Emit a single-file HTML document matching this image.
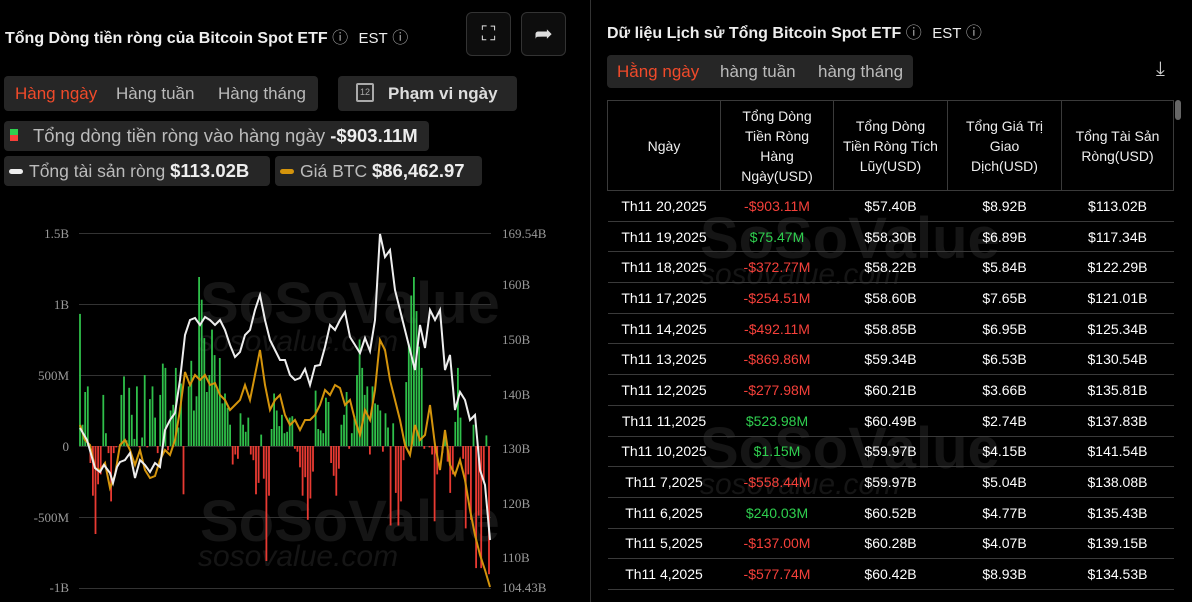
<!DOCTYPE html>
<html><head><meta charset="utf-8"><style>
*{margin:0;padding:0;box-sizing:border-box}
body{width:1192px;height:602px;background:#000;font-family:"Liberation Sans",sans-serif;color:#ddd;position:relative;overflow:hidden}
.a{position:absolute}
.pill{position:absolute;background:#262626;border-radius:4px}
table{border-collapse:collapse;position:absolute;left:607px;top:100px;width:567px;font-size:14px;color:#fff}
td,th{border:1px solid #3a3a3a;text-align:center;font-weight:normal}
th{height:90px;font-size:14px;color:#eee;line-height:20px}
td{height:30.7px;border-left:none;border-right:none}
.r{color:#f5403a}.g{color:#2fcf4f}
.wm{position:absolute;color:#151515;font-weight:bold;font-size:58px}
.wm2{position:absolute;color:#151515;font-style:italic;font-size:30px}
</style></head><body>
<div class="wm" style="left:200px;top:270px">SoSoValue</div>
<div class="wm2" style="left:198px;top:325px">sosovalue.com</div>
<div class="wm" style="left:200px;top:488px">SoSoValue</div>
<div class="wm2" style="left:198px;top:540px">sosovalue.com</div>
<div class="wm" style="left:700px;top:205px">SoSoValue</div>
<div class="wm2" style="left:700px;top:258px">sosovalue.com</div>
<div class="wm" style="left:700px;top:415px">SoSoValue</div>
<div class="wm2" style="left:700px;top:468px">sosovalue.com</div>
<div class="a" style="left:5px;top:24px;font-size:16px;font-weight:bold;color:#eee">Tổng Dòng tiền ròng của Bitcoin Spot ETF <span style="font-weight:normal;color:#aaa">ⓘ</span> <span style="font-weight:normal;font-size:15px;margin-left:6px">EST</span> <span style="font-weight:normal;color:#aaa">ⓘ</span></div>
<div class="a" style="left:466px;top:12px;width:45px;height:44px;border:1px solid #333;border-radius:6px;background:#0d0d0d;text-align:center;line-height:42px;font-size:20px">⛶</div>
<div class="a" style="left:521px;top:12px;width:45px;height:44px;border:1px solid #333;border-radius:6px;background:#0d0d0d;text-align:center;line-height:42px;font-size:22px">➦</div>
<div class="a" style="left:590px;top:0;width:1px;height:602px;background:#333"></div>
<div class="pill" style="left:4px;top:76px;width:314px;height:35px"></div>
<div class="a" style="left:15px;top:84px;font-size:17px;color:#f04a2a">Hàng ngày</div>
<div class="a" style="left:116px;top:84px;font-size:17px;color:#bbb">Hàng tuần</div>
<div class="a" style="left:218px;top:84px;font-size:17px;color:#bbb">Hàng tháng</div>
<div class="pill" style="left:338px;top:76px;width:179px;height:35px"></div>
<div class="a" style="left:356px;top:83px;width:18px;height:19px;border:2px solid #aaa;border-radius:2px;font-size:9px;text-align:center;line-height:15px;color:#aaa">12</div>
<div class="a" style="left:388px;top:84px;font-size:17px;font-weight:bold;color:#ddd">Phạm vi ngày</div>
<div class="pill" style="left:4px;top:121px;width:425px;height:30px"></div>
<div class="a" style="left:10px;top:129px;width:8px;height:6px;background:#2fcf4f"></div>
<div class="a" style="left:10px;top:135px;width:8px;height:6px;background:#f5403a"></div>
<div class="a" style="left:33px;top:125px;font-size:18.5px;color:#bbb">Tổng dòng tiền ròng vào hàng ngày <b style="color:#eee">-$903.11M</b></div>
<div class="pill" style="left:4px;top:156px;width:266px;height:30px"></div>
<div class="a" style="left:9px;top:169px;width:14px;height:5px;border-radius:3px;background:#eee"></div>
<div class="a" style="left:29px;top:160px;font-size:17.5px;color:#bbb">Tổng tài sản ròng <b style="color:#eee;font-size:18.5px">$113.02B</b></div>
<div class="pill" style="left:275px;top:156px;width:207px;height:30px"></div>
<div class="a" style="left:280px;top:169px;width:14px;height:5px;border-radius:3px;background:#d4940c"></div>
<div class="a" style="left:300px;top:160px;font-size:17.5px;color:#bbb">Giá BTC <b style="color:#eee;font-size:18.5px">$86,462.97</b></div>
<svg class="a" style="left:0;top:0" width="590" height="602" id="ch">
<g stroke="#333" stroke-width="1">
<line x1="79" x2="491" y1="233.5" y2="233.5"/><line x1="79" x2="491" y1="304.5" y2="304.5"/><line x1="79" x2="491" y1="375.5" y2="375.5"/><line x1="79" x2="491" y1="446.5" y2="446.5"/><line x1="79" x2="491" y1="517.5" y2="517.5"/><line x1="79" x2="491" y1="588.5" y2="588.5"/></g>
<g font-family="Liberation Serif" font-size="13" fill="#999" text-anchor="end">
<text x="69" y="238">1.5B</text><text x="69" y="309">1B</text><text x="69" y="380">500M</text><text x="69" y="451">0</text><text x="69" y="522">-500M</text><text x="69" y="592">-1B</text></g>
<g font-family="Liberation Serif" font-size="13" fill="#999">
<text x="502" y="238">169.54B</text><text x="502" y="289">160B</text><text x="502" y="344">150B</text><text x="502" y="399">140B</text><text x="502" y="453">130B</text><text x="502" y="508">120B</text><text x="502" y="562">110B</text><text x="502" y="592">104.43B</text></g>
<g id="bars"></g>
<polyline fill="none" stroke="#d4940c" stroke-width="2" points="80,425 85,440 90,445 95,468 100,470 105,463 110,488 115,475 120,445 125,440 130,450 135,465 140,450 145,470 150,478 155,476 160,460 165,450 170,455 175,440 180,410 185,372 190,385 195,375 200,380 205,375 210,385 215,383 220,395 225,400 230,410 235,405 240,400 245,385 250,400 255,375 260,350 265,385 270,410 275,400 280,395 285,415 290,425 295,420 300,430 305,420 310,420 315,415 320,405 325,390 330,395 335,385 340,388 345,405 350,400 355,420 360,435 365,410 370,420 375,390 380,340 385,350 390,380 395,400 400,420 405,445 410,455 415,425 420,440 425,435 430,405 435,445 440,470 445,430 450,465 455,475 460,460 465,480 470,510 475,535 480,555 485,570 490,587"/>
<polyline fill="none" stroke="#eee" stroke-width="2" points="80,428 87,440 95,468 100,472 104,465 110,473 113,483 117,467 120,462 125,460 130,453 135,478 140,460 145,465 150,472 155,463 160,467 165,430 170,420 175,413 180,380 185,335 190,320 195,318 200,325 205,317 210,320 215,325 220,320 225,330 230,345 235,357 240,352 245,335 250,330 255,310 260,295 265,320 270,340 275,350 280,360 285,360 290,375 295,380 300,378 305,369 310,385 315,366 320,365 325,347 330,325 335,330 340,320 345,312 350,337 355,345 360,353 365,338 370,351 375,320 380,234 385,257 390,250 395,290 400,310 405,330 410,350 415,370 420,325 425,348 430,310 435,320 440,310 445,370 450,355 455,410 460,392 465,400 470,420 475,415 480,470 485,485 490,540"/>
</svg>
<script>
var v=[930,150,380,420,-120,-350,-620,-270,-200,360,90,-50,-390,-50,-10,0,360,490,40,410,220,50,420,-10,60,500,-10,330,420,200,-50,360,580,550,-30,250,290,550,130,440,-340,0,420,600,250,350,1190,1030,760,380,500,820,640,400,620,300,370,270,150,-130,-60,-90,230,150,100,200,-60,-100,-340,-260,80,-230,-810,-350,120,370,250,140,220,90,100,200,210,-20,-40,-150,-350,-220,-520,-370,-180,390,120,110,90,340,310,-120,-210,-350,-160,150,220,380,-20,90,210,500,750,550,360,420,-60,420,300,290,250,-40,230,130,-560,160,-330,-560,-390,-100,450,720,1060,1190,950,700,550,-20,0,-10,-60,-530,-200,0,-50,100,-110,-330,-200,170,550,200,-90,-580,-200,-520,150,-860,-490,-860,-250,75,-903];
var s='',n=v.length,st=(489-80)/(n-1);
for(var i=0;i<n;i++){var x=80+i*st,h=Math.abs(v[i])*0.142,y=v[i]>=0?446-h:446;s+='<rect x="'+(x-0.9).toFixed(1)+'" y="'+y.toFixed(1)+'" width="1.8" height="'+h.toFixed(1)+'" fill="'+(v[i]>=0?'#2fbf4a':'#e83a32')+'"/>';}
document.getElementById('bars').innerHTML=s;
</script>
<div class="a" style="left:607px;top:19px;font-size:16px;font-weight:bold;color:#eee">Dữ liệu Lịch sử Tổng Bitcoin Spot ETF <span style="font-weight:normal;color:#aaa">ⓘ</span> <span style="font-weight:normal;font-size:15px;margin-left:6px">EST</span> <span style="font-weight:normal;color:#aaa">ⓘ</span></div>
<div class="pill" style="left:607px;top:55px;width:306px;height:33px"></div>
<div class="a" style="left:617px;top:62px;font-size:17px;color:#f04a2a">Hằng ngày</div>
<div class="a" style="left:720px;top:62px;font-size:17px;color:#bbb">hàng tuần</div>
<div class="a" style="left:818px;top:62px;font-size:17px;color:#bbb">hàng tháng</div>
<div class="a" style="left:1156px;top:58px;font-size:20px;color:#ccc">⤓</div>
<div class="a" style="left:1175px;top:100px;width:6px;height:20px;border-radius:3px;background:#666"></div>
<table>
<tr><th style="width:113px">Ngày</th><th style="width:113px">Tổng Dòng<br>Tiền Ròng<br>Hàng<br>Ngày(USD)</th><th style="width:114px">Tổng Dòng<br>Tiền Ròng Tích<br>Lũy(USD)</th><th style="width:114px">Tổng Giá Trị<br>Giao<br>Dịch(USD)</th><th>Tổng Tài Sản<br>Ròng(USD)</th></tr>
<tr><td>Th11 20,2025</td><td class="r">-$903.11M</td><td>$57.40B</td><td>$8.92B</td><td>$113.02B</td></tr>
<tr><td>Th11 19,2025</td><td class="g">$75.47M</td><td>$58.30B</td><td>$6.89B</td><td>$117.34B</td></tr>
<tr><td>Th11 18,2025</td><td class="r">-$372.77M</td><td>$58.22B</td><td>$5.84B</td><td>$122.29B</td></tr>
<tr><td>Th11 17,2025</td><td class="r">-$254.51M</td><td>$58.60B</td><td>$7.65B</td><td>$121.01B</td></tr>
<tr><td>Th11 14,2025</td><td class="r">-$492.11M</td><td>$58.85B</td><td>$6.95B</td><td>$125.34B</td></tr>
<tr><td>Th11 13,2025</td><td class="r">-$869.86M</td><td>$59.34B</td><td>$6.53B</td><td>$130.54B</td></tr>
<tr><td>Th11 12,2025</td><td class="r">-$277.98M</td><td>$60.21B</td><td>$3.66B</td><td>$135.81B</td></tr>
<tr><td>Th11 11,2025</td><td class="g">$523.98M</td><td>$60.49B</td><td>$2.74B</td><td>$137.83B</td></tr>
<tr><td>Th11 10,2025</td><td class="g">$1.15M</td><td>$59.97B</td><td>$4.15B</td><td>$141.54B</td></tr>
<tr><td>Th11 7,2025</td><td class="r">-$558.44M</td><td>$59.97B</td><td>$5.04B</td><td>$138.08B</td></tr>
<tr><td>Th11 6,2025</td><td class="g">$240.03M</td><td>$60.52B</td><td>$4.77B</td><td>$135.43B</td></tr>
<tr><td>Th11 5,2025</td><td class="r">-$137.00M</td><td>$60.28B</td><td>$4.07B</td><td>$139.15B</td></tr>
<tr><td>Th11 4,2025</td><td class="r">-$577.74M</td><td>$60.42B</td><td>$8.93B</td><td>$134.53B</td></tr>
</table>
</body></html>
